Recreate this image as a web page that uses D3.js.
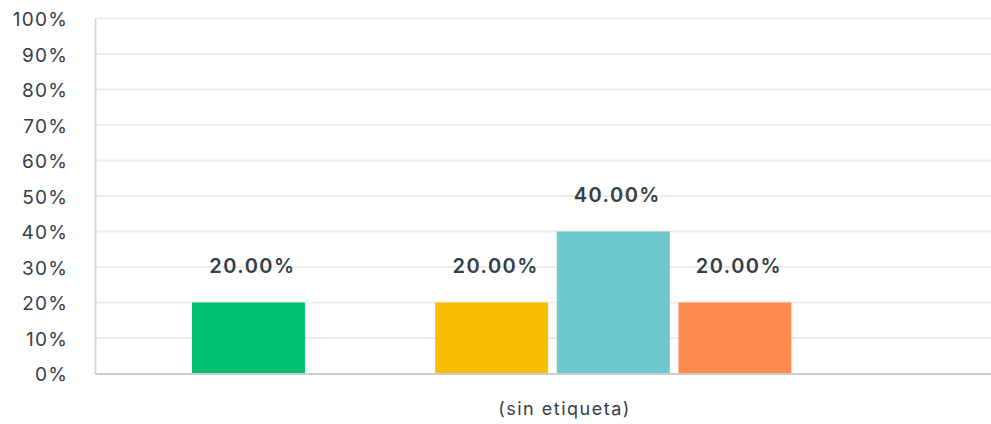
<!DOCTYPE html>
<html lang="es">
<head>
<meta charset="UTF-8">
<script src="https://cdnjs.cloudflare.com/ajax/libs/d3/7.8.5/d3.min.js"></script>
<style>
  html, body { margin: 0; padding: 0; background: #fff; }
  svg text { font-family: Inter, "Open Sans", sans-serif; fill: #333e48; }
</style>
</head>
<body>
<div id="chart"></div>
<script>
  // data
  var categories = ["(sin etiqueta)"];
  var seriesNames = ["A", "B", "C", "D", "E", "F"];
  var seriesValues = [0.20, 0, 0.20, 0.40, 0.20, 0];
  var seriesColors = ["#00bf6f", "#507cb6", "#f9be00", "#6bc8cd", "#ff8b4f", "#7d5e90"];
  var yTicks = [0, 0.1, 0.2, 0.3, 0.4, 0.5, 0.6, 0.7, 0.8, 0.9, 1];

  var width = 991, height = 424;
  var margin = {top: 18.5, right: -19, bottom: 50.5, left: 95};
  var w = width - margin.left - margin.right;
  var h = height - margin.top - margin.bottom;

  var svg = d3.select("#chart").append("svg")
    .attr("width", width)
    .attr("height", height);

  var g = svg.append("g")
    .attr("transform", "translate(" + margin.left + "," + margin.top + ")");

  var y = d3.scaleLinear().domain([0, 1]).range([h, 0]);

  var x0 = d3.scaleBand().domain(categories).range([0, w])
    .paddingInner(0).paddingOuter(0.1345);

  var x1 = d3.scaleBand().domain(seriesNames).range([0, x0.bandwidth()])
    .paddingInner(0.071).paddingOuter(0);

  // gridlines
  g.append("g").selectAll("line")
    .data(yTicks.slice(1))
    .enter().append("line")
    .attr("x1", 0).attr("x2", w)
    .attr("y1", d => y(d)).attr("y2", d => y(d))
    .attr("stroke", "#ededed")
    .attr("stroke-width", 2);

  // y axis
  var yAxis = g.append("g")
    .call(d3.axisLeft(y).tickValues(yTicks).tickFormat(d3.format(".0%")).tickSize(0).tickPadding(27));
  yAxis.attr("font-family", null);
  yAxis.select(".domain").attr("stroke", "#d9d9d9").attr("stroke-width", 2);
  yAxis.selectAll("text").style("font-size", "19px").style("letter-spacing", "1.2px").attr("dy", "0.38em");

  // bars
  var group = g.append("g").selectAll("g")
    .data(categories)
    .enter().append("g")
    .attr("transform", d => "translate(" + x0(d) + ",0)");

  var pts = seriesNames.map((s, i) => ({name: s, value: seriesValues[i], color: seriesColors[i]}));

  group.selectAll("rect")
    .data(pts)
    .enter().append("rect")
    .attr("x", d => x1(d.name))
    .attr("width", x1.bandwidth())
    .attr("y", d => y(d.value))
    .attr("height", d => h - y(d.value))
    .attr("fill", d => d.color);

  group.selectAll("text.val")
    .data(pts.filter(d => d.value > 0))
    .enter().append("text")
    .attr("class", "val")
    .attr("x", d => x1(d.name) + x1.bandwidth() / 2 + 4)
    .attr("y", d => y(d.value) - 30)
    .attr("text-anchor", "middle")
    .style("font-size", "20px")
    .style("font-weight", 600)
    .style("letter-spacing", "1.5px")
    .text(d => d3.format(".2%")(d.value));

  // x axis
  var xAxis = g.append("g")
    .attr("transform", "translate(0," + h + ")")
    .call(d3.axisBottom(x0).tickSize(0).tickPadding(29));
  xAxis.attr("font-family", null);
  xAxis.select(".domain").attr("stroke", "#cccccc").attr("stroke-width", 2);
  xAxis.selectAll("text").style("font-size", "18px").style("letter-spacing", "1.5px").attr("dx", 12);
</script>
</body>
</html>
